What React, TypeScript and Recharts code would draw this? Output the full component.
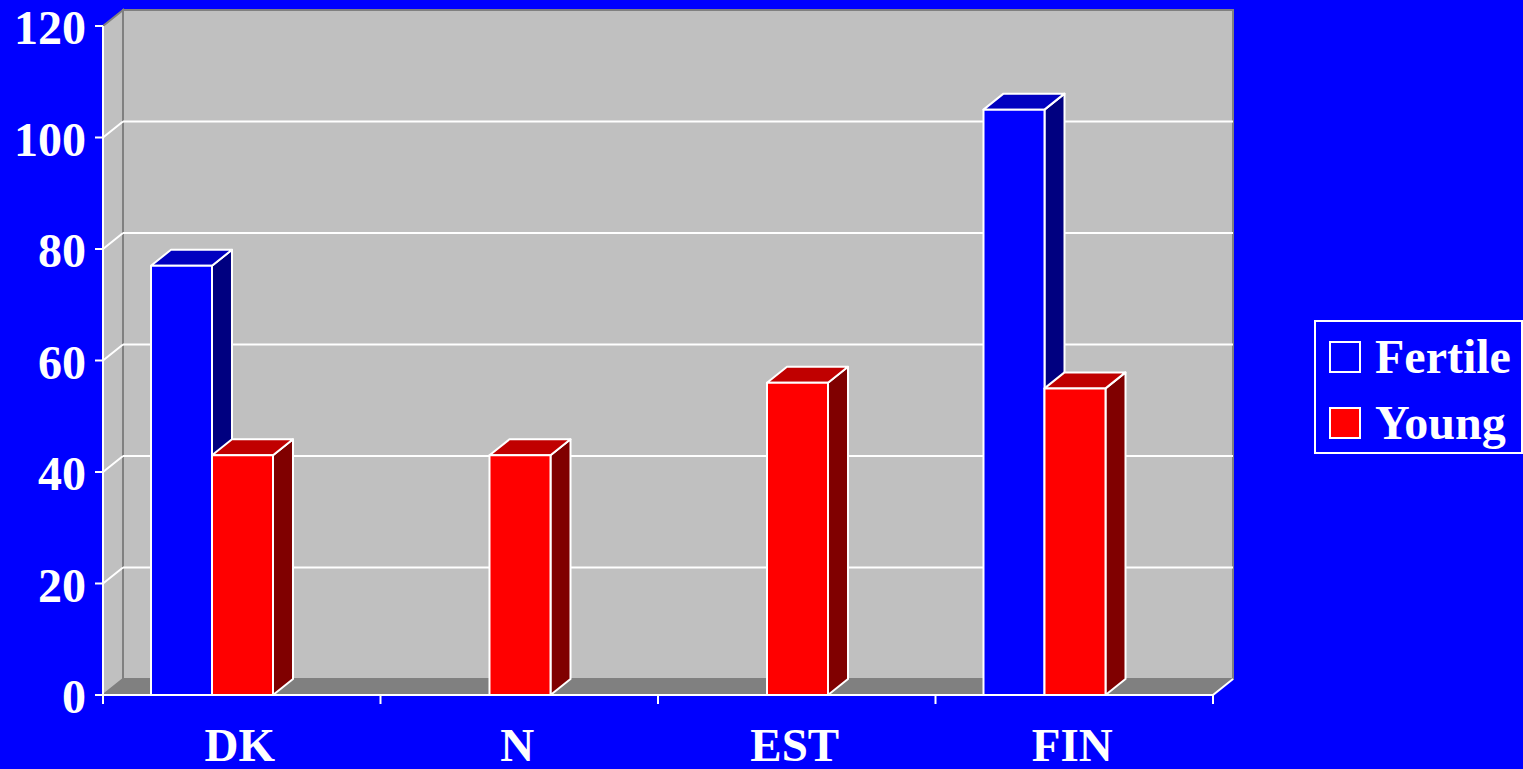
import React from 'react';
import { BarChart, Bar, XAxis, YAxis, ReferenceArea } from 'recharts';

const CATEGORIES = ['DK', 'N', 'EST', 'FIN'];
const FERTILE = [77, null, null, 105];
const YOUNG = [43, 43, 56, 55];
const SERIES = ['Fertile', 'Young'];
const Y_TICKS = [0, 20, 40, 60, 80, 100, 120];

const data = CATEGORIES.map((name, i) => ({ name, fertile: FERTILE[i], young: YOUNG[i] }));

const W = 1523;
const H = 769;
const MARGIN = { top: 26, right: 310, bottom: 0, left: 8 };
const Y_AXIS_W = 95;
const X_AXIS_H = 74;
const PLOT_W = W - MARGIN.left - MARGIN.right - Y_AXIS_W;
const HALF_BAND = PLOT_W / CATEGORIES.length / 2;

// 3D projection of the floor/walls and of each bar's depth
const DX = 20;
const DY = 16;
const BAR_SHIFT = -30;

const BG = '#0000FF';
const WALL = '#C0C0C0';
const FLOOR = '#808080';
const EDGE = '#808080';
const FONT = '"Liberation Serif", "Times New Roman", serif';

const COLORS = {
  fertile: { front: '#0000FF', top: '#0000C0', side: '#000080' },
  young: { front: '#FF0000', top: '#C00000', side: '#800000' },
};

function makeBox(c: { front: string; top: string; side: string }) {
  return (p: any) => {
    const { x, y, width, height, value } = p;
    if (value == null || !height || height <= 0) return <g />;
    const x0 = x + BAR_SHIFT;
    const x1 = x0 + width;
    const yb = y + height;
    return (
      <g stroke="#FFFFFF" strokeWidth={2} strokeLinejoin="round">
        <polygon points={`${x1},${y} ${x1 + DX},${y - DY} ${x1 + DX},${yb - DY} ${x1},${yb}`} fill={c.side} />
        <polygon points={`${x0},${y} ${x0 + DX},${y - DY} ${x1 + DX},${y - DY} ${x1},${y}`} fill={c.top} />
        <rect x={x0} y={y} width={width} height={height} fill={c.front} />
      </g>
    );
  };
}

// back wall, left wall, floor and the gridlines running across them
function Backdrop(p: any) {
  const { x, y, width, height } = p;
  const bottom = y + height;
  const yOf = (v: number) => y + height * (1 - v / Y_TICKS[Y_TICKS.length - 1]);
  return (
    <g>
      <rect x={x + DX} y={y - DY} width={width} height={height} fill={WALL} stroke={EDGE} strokeWidth={2} />
      <polygon
        points={`${x},${y} ${x + DX},${y - DY} ${x + DX},${bottom - DY} ${x},${bottom}`}
        fill={WALL}
        stroke={EDGE}
        strokeWidth={2}
      />
      {Y_TICKS.slice(1, -1).map((v) => {
        const gy = yOf(v);
        return (
          <g key={v} stroke="#FFFFFF" strokeWidth={2}>
            <line x1={x} y1={gy} x2={x + DX} y2={gy - DY} />
            <line x1={x + DX} y1={gy - DY} x2={x + DX + width} y2={gy - DY} />
          </g>
        );
      })}
      <polygon
        points={`${x},${bottom} ${x + DX},${bottom - DY} ${x + DX + width},${bottom - DY} ${x + width},${bottom}`}
        fill={FLOOR}
      />
      <line x1={x + width} y1={bottom} x2={x + width + DX} y2={bottom - DY} stroke="#FFFFFF" strokeWidth={2} />
    </g>
  );
}

const YTick = (p: any) => (
  <text x={p.x - 7} y={p.y + 18} textAnchor="end" fill="#FFFFFF" fontFamily={FONT} fontWeight="bold" fontSize={48}>
    {p.payload.value}
  </text>
);

const XTick = (p: any) => {
  const { x, y, payload, index } = p;
  const last = index === CATEGORIES.length - 1;
  return (
    <g>
      <line x1={x - HALF_BAND} y1={y} x2={x - HALF_BAND} y2={y + 9} stroke="#FFFFFF" strokeWidth={2} />
      {last && <line x1={x + HALF_BAND} y1={y} x2={x + HALF_BAND} y2={y + 9} stroke="#FFFFFF" strokeWidth={2} />}
      <text x={x - 2} y={y + 66} textAnchor="middle" fill="#FFFFFF" fontFamily={FONT} fontWeight="bold" fontSize={47}>
        {payload.value}
      </text>
    </g>
  );
};

function LegendBox() {
  const swatches = [COLORS.fertile.front, COLORS.young.front];
  return (
    <svg width={209} height={135} style={{ position: 'absolute', left: 1314, top: 320 }}>
      <rect x={1} y={1} width={207} height={132} fill="none" stroke="#FFFFFF" strokeWidth={2} />
      {SERIES.map((name, i) => (
        <g key={name}>
          <rect x={16} y={22 + i * 66} width={30} height={30} fill={swatches[i]} stroke="#FFFFFF" strokeWidth={2} />
          <text x={61} y={53 + i * 66} fill="#FFFFFF" fontFamily={FONT} fontWeight="bold" fontSize={48}>
            {name}
          </text>
        </g>
      ))}
    </svg>
  );
}

export default function App() {
  return (
    <div style={{ position: 'relative', width: W, height: H, background: BG, overflow: 'hidden' }}>
      <style>{'body{margin:0}'}</style>
      <BarChart width={W} height={H} data={data} margin={MARGIN} barGap={0} barCategoryGap={0}>
        <XAxis
          dataKey="name"
          height={X_AXIS_H}
          axisLine={{ stroke: '#FFFFFF', strokeWidth: 2 }}
          tickLine={false}
          tickSize={0}
          tickMargin={0}
          tick={<XTick />}
          interval={0}
        />
        <YAxis
          width={Y_AXIS_W}
          domain={[0, 120]}
          ticks={Y_TICKS}
          interval={0}
          axisLine={{ stroke: '#FFFFFF', strokeWidth: 2 }}
          tickLine={{ stroke: '#FFFFFF', strokeWidth: 2 }}
          tickSize={8}
          tick={<YTick />}
        />
        <ReferenceArea y1={0} y2={120} shape={<Backdrop />} ifOverflow="visible" />
        <Bar dataKey="fertile" name={SERIES[0]} barSize={61} shape={makeBox(COLORS.fertile)} isAnimationActive={false} />
        <Bar dataKey="young" name={SERIES[1]} barSize={61} shape={makeBox(COLORS.young)} isAnimationActive={false} />
      </BarChart>
      <LegendBox />
    </div>
  );
}
